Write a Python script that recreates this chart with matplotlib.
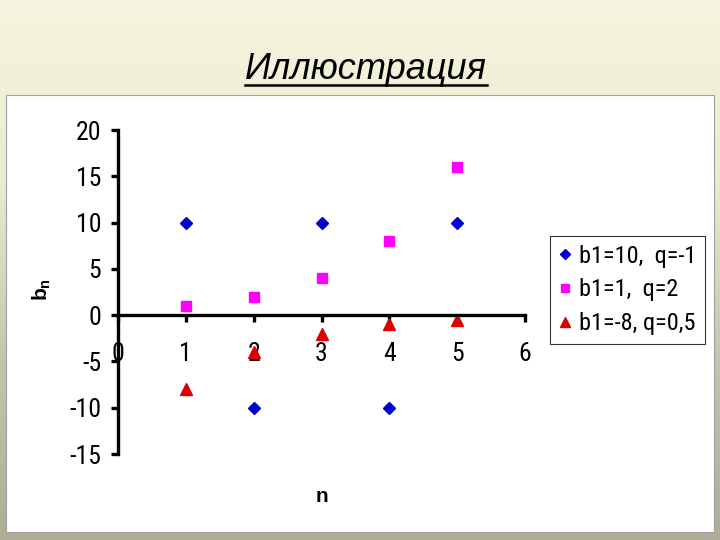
import matplotlib
matplotlib.use("Agg")
import matplotlib.pyplot as plt
import numpy as np
from matplotlib import font_manager
from matplotlib.font_manager import FontProperties
from matplotlib.patches import Rectangle
from matplotlib.colors import LinearSegmentedColormap

# ---- data ----
n_values = [1, 2, 3, 4, 5]
series1 = [10, -10, 10, -10, 10]       # b1=10, q=-1
series2 = [1, 2, 4, 8, 16]             # b1=1, q=2
series3 = [-8, -4, -2, -1, -0.5]       # b1=-8, q=0,5
legend_labels = ["b1=10,  q=-1", "b1=1,  q=2", "b1=-8, q=0,5"]
x_ticks = [0, 1, 2, 3, 4, 5, 6]
y_ticks = [-15, -10, -5, 0, 5, 10, 15, 20]
title_text = "Иллюстрация"
x_label = "n"


def find_narrow():
    cands = []
    for f in font_manager.fontManager.ttflist:
        nm = f.name
        st = str(f.stretch).lower()
        if f.style != "normal" or f.weight not in (400, "normal", "regular"):
            continue
        if "Narrow" in nm or "Condensed" in nm or st in ("condensed", "semi-condensed", "575", "625", "500"):
            cands.append(f)
    order = ["Liberation Sans Narrow", "Roboto Condensed", "Open Sans Condensed",
             "Noto Sans", "DejaVu Sans", "Roboto", "Open Sans"]
    for o in order:
        for f in cands:
            if f.name.startswith(o):
                return f.fname
    if cands:
        return cands[0].fname
    return None


nfile = find_narrow()
if nfile:
    def tp(size):
        return FontProperties(fname=nfile, size=size)
    tsize = 18.5
    lsize = 17.5
else:
    def tp(size):
        return FontProperties(family="Liberation Sans", size=size)
    tsize = 15
    lsize = 14

W, H = 720, 540
fig = plt.figure(figsize=(W / 100, H / 100), dpi=100)

# background gradient
bg = fig.add_axes([0, 0, 1, 1])
bg.set_axis_off()
cmap = LinearSegmentedColormap.from_list("bgc", ["#f5f5df", "#ecebd0", "#c6c4ad", "#afad96"])
grad = np.linspace(0, 1, 256).reshape(-1, 1)
bg.imshow(grad, aspect="auto", cmap=cmap, extent=[0, 1, 0, 1], origin="upper")
bg.set_xlim(0, 1)
bg.set_ylim(0, 1)
# white chart panel
bg.add_patch(Rectangle((6 / W, 1 - 532 / H), (714 - 6) / W, (532 - 95) / H,
                       facecolor="white", edgecolor="#a0a0a0", linewidth=0.8))

# title with underline
bg.text(366 / W, 1 - 79 / H, title_text, fontsize=26, style="italic",
        family="Liberation Sans", ha="center", va="baseline", color="black")
bg.plot([245 / W, 487 / W], [1 - 85 / H, 1 - 85 / H], color="black", lw=1.8)

# main axes
x0, x1 = 118, 525
yt, yb = 130, 454
ax = fig.add_axes([x0 / W, 1 - yb / H, (x1 - x0) / W, (yb - yt) / H])
ax.set_facecolor("none")
ax.set_xlim(0, 6)
ax.set_ylim(-15, 20)

ax.plot(n_values, series1, linestyle="none", marker="D", markersize=6,
        color="#0000cc", label=legend_labels[0])
ax.plot(n_values, series2, linestyle="none", marker="s", markersize=7,
        color="#ff00ff", label=legend_labels[1])
ax.plot(n_values, series3, linestyle="none", marker="^", markersize=8,
        color="#dd0000", label=legend_labels[2])

for s in ["top", "right"]:
    ax.spines[s].set_visible(False)
ax.spines["left"].set_position(("data", 0))
ax.spines["bottom"].set_position(("data", 0))
ax.spines["left"].set_linewidth(2.4)
ax.spines["bottom"].set_linewidth(2.4)

ax.set_xticks(x_ticks)
ax.set_yticks(y_ticks)
ax.set_xticklabels([str(v) for v in x_ticks])
ax.set_yticklabels([str(v) for v in y_ticks])
for lab in ax.get_xticklabels() + ax.get_yticklabels():
    lab.set_fontproperties(tp(tsize))
ax.tick_params(axis="y", direction="out", length=5, width=2.4, pad=7)
ax.tick_params(axis="x", direction="out", length=5, width=2.4, pad=14)

ax.set_xlabel(x_label, fontsize=15, fontweight="bold", family="Liberation Sans")
ax.xaxis.set_label_coords((322 - x0) / (x1 - x0), (yb - 497) / (yb - yt))
ax.xaxis.label.set_va("center")

plt.rcParams["mathtext.fontset"] = "custom"
plt.rcParams["mathtext.bf"] = "Liberation Sans:bold"
plt.rcParams["mathtext.rm"] = "Liberation Sans"
fig.text(42 / W, 1 - 290 / H, r"$\mathbf{b}_{\mathbf{n}}$", fontsize=15,
         rotation=90, ha="center", va="center")

leg = fig.legend(loc="upper left", bbox_to_anchor=(550 / W, 1 - 236 / H),
                 prop=tp(lsize), frameon=True, fancybox=False,
                 edgecolor="black", handlelength=0.5, handletextpad=0.35,
                 borderpad=0.35, labelspacing=0.45, borderaxespad=0,
                 markerscale=0.9)
leg.get_frame().set_linewidth(0.8)

fig.savefig("out.png", dpi=100)
